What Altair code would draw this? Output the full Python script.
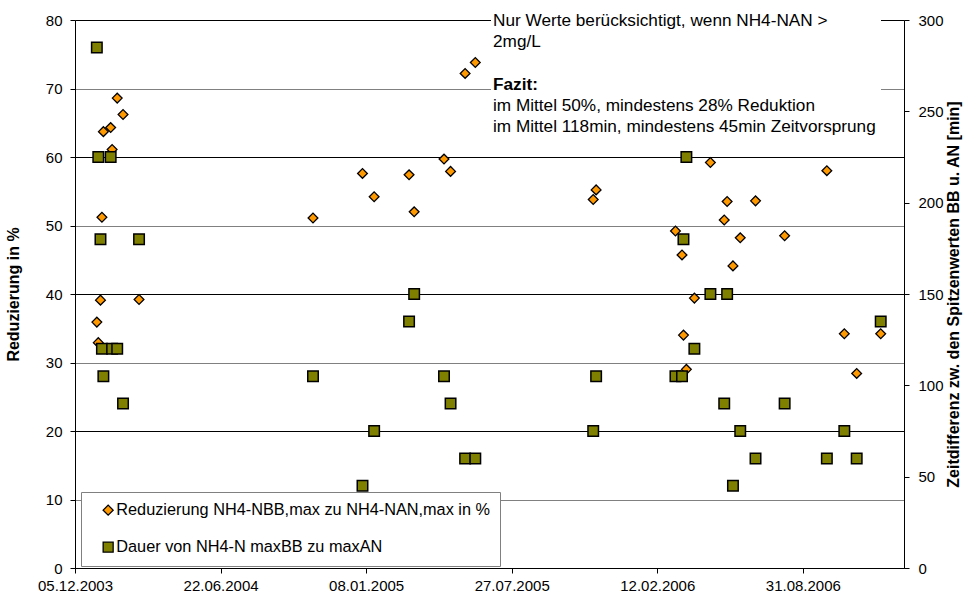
import altair as alt
import pandas as pd

# ---- data ----
event_dates = [
    "2004-01-04", "2004-01-06", "2004-01-09", "2004-01-11", "2004-01-13",
    "2004-01-23", "2004-01-25", "2004-02-01", "2004-02-09", "2004-03-02",
    "2004-10-27", "2005-01-03", "2005-01-19", "2005-03-08", "2005-03-15",
    "2005-04-25", "2005-05-04", "2005-05-24", "2005-06-07",
    "2005-11-16", "2005-11-20",
    "2006-03-09", "2006-03-18", "2006-03-20", "2006-03-24", "2006-04-04",
    "2006-04-26", "2006-05-15", "2006-05-19", "2006-05-27", "2006-06-06",
    "2006-06-27", "2006-08-06", "2006-10-03", "2006-10-27", "2006-11-13",
    "2006-12-16",
]
reduction_pct = [
    35.9, 32.9, 39.1, 51.2, 63.7, 64.3, 61.1, 68.6, 66.2, 39.2,
    51.1, 57.6, 54.2, 57.4, 52.0, 59.7, 57.9, 72.2, 73.8,
    53.8, 55.2,
    49.2, 45.7, 34.0, 29.0, 39.4, 59.2, 50.8, 53.5, 44.1, 48.2,
    53.6, 48.5, 58.0, 34.2, 28.4, 34.2,
]
duration_min = [
    285, 225, 180, 120, 105, 225, 120, 120, 90, 180,
    105, 45, 75, 135, 150, 105, 90, 60, 60,
    75, 105,
    105, 105, 180, 225, 120, 150, 90, 150, 45, 75,
    60, 90, 60, 75, 60, 135,
]
x_tick_dates = [(2003, 12, 5), (2004, 6, 22), (2005, 1, 8), (2005, 7, 27),
                (2006, 2, 12), (2006, 8, 31)]
x_domain = [(2003, 12, 5), (2007, 1, 17)]
left_ticks = [0, 10, 20, 30, 40, 50, 60, 70, 80]
right_ticks = [0, 50, 100, 150, 200, 250, 300]

series_names = ["Reduzierung NH4-NBB,max zu NH4-NAN,max in %",
                "Dauer von NH4-N maxBB zu maxAN"]
series_colors = ["#FF9900", "#808000"]
series_shapes = ["diamond", "square"]

note_lines = ["Nur Werte berücksichtigt, wenn NH4-NAN >", "2mg/L"]
fazit_title = "Fazit:"
fazit_lines = ["im Mittel 50%, mindestens 28% Reduktion",
               "im Mittel 118min, mindestens 45min Zeitvorsprung"]

FONT = "Liberation Sans"
LABEL_SIZE = 15
TITLE_SIZE = 16
NOTE_SIZE = 17.2

df = pd.DataFrame({"Datum": event_dates, "Reduzierung": reduction_pct,
                   "Dauer": duration_min})


def dt(t):
    return alt.DateTime(year=t[0], month=t[1], date=t[2], utc=True)


x_enc = alt.X(
    "Datum:T",
    scale=alt.Scale(type="utc", domain=[dt(x_domain[0]), dt(x_domain[1])], nice=False),
    axis=alt.Axis(values=[dt(t) for t in x_tick_dates],
                  labelExpr="utcFormat(datum.value, '%d.%m.%Y')",
                  title=None, grid=False, labelFontSize=LABEL_SIZE,
                  labelColor="black", tickColor="black", domainColor="black",
                  tickSize=5, labelPadding=5, labelFont=FONT, labelFlush=False,
                  labelOverlap=False),
)

legend_kw = dict(title=None, orient="none", legendX=6, legendY=472,
                 fillColor="white", strokeColor="#808080",
                 padding=10, rowPadding=20, labelFontSize=16.3,
                 labelFont=FONT, labelColor="black",
                 symbolStrokeColor="black", symbolStrokeWidth=1.3,
                 symbolSize=100, symbolOffset=9, labelOffset=0,
                 labelLimit=600)
color_enc = alt.Color("Serie:N", scale=alt.Scale(domain=series_names, range=series_colors),
                      legend=alt.Legend(**legend_kw))
shape_enc = alt.Shape("Serie:N", scale=alt.Scale(domain=series_names, range=series_shapes),
                      legend=alt.Legend(**legend_kw))

base = alt.Chart(df)

diamonds = base.transform_calculate(Serie=f"'{series_names[0]}'").mark_point(
    filled=True, stroke="black", strokeWidth=1.3, size=95, opacity=1
).encode(
    x=x_enc,
    y=alt.Y("Reduzierung:Q", scale=alt.Scale(domain=[0, 80], nice=False),
            axis=alt.Axis(values=left_ticks, title="Reduzierung in %", orient="left",
                          titleFontSize=TITLE_SIZE, titleFontWeight="bold", titleFont=FONT,
                          titleColor="black", labelFontSize=LABEL_SIZE, labelFont=FONT,
                          labelColor="black", tickColor="black", domainColor="black",
                          tickSize=5, labelPadding=8, titlePadding=24, grid=True,
                          labelFlush=False,
                          gridColor={"condition": {"test": "datum.value % 20 === 0",
                                                   "value": "#000000"},
                                     "value": "#808080"},
                          gridWidth=1)),
    color=color_enc,
    shape=shape_enc,
)

squares = base.transform_calculate(Serie=f"'{series_names[1]}'").mark_point(
    filled=True, stroke="black", strokeWidth=1.5, size=110, opacity=1
).encode(
    x=x_enc,
    y=alt.Y("Dauer:Q", scale=alt.Scale(domain=[0, 300], nice=False),
            axis=alt.Axis(values=right_ticks, orient="right",
                          title="Zeitdifferenz zw. den Spitzenwerten BB u. AN [min]",
                          titleAngle=270, titleBaseline="top", titleFontSize=TITLE_SIZE,
                          titleFontWeight="bold", titleFont=FONT, titleColor="black",
                          labelFontSize=LABEL_SIZE, labelFont=FONT, labelColor="black",
                          tickColor="black", domainColor="black", tickSize=5,
                          labelPadding=9, titlePadding=2, grid=False, labelFlush=False)),
    color=color_enc,
    shape=shape_enc,
)

one = pd.DataFrame({"k": [0]})
note_box = alt.Chart(one).mark_rect(fill="white").encode(
    x=alt.value(416), x2=alt.value(806), y=alt.value(-16), y2=alt.value(117))

note_style = dict(align="left", baseline="middle", fontSize=NOTE_SIZE, font=FONT,
                  color="black")
note1 = alt.Chart(one).mark_text(lineHeight=21.5, **note_style).encode(
    x=alt.value(418), y=alt.value(0.7), text=alt.value(note_lines))
note2 = alt.Chart(one).mark_text(fontWeight="bold", **note_style).encode(
    x=alt.value(418), y=alt.value(65), text=alt.value(fazit_title))
note3 = alt.Chart(one).mark_text(lineHeight=21.5, **note_style).encode(
    x=alt.value(418), y=alt.value(85.5), text=alt.value(fazit_lines))

chart = alt.layer(note_box, note1, note2, note3, diamonds, squares).resolve_scale(
    y="independent"
).properties(
    width=829, height=548,
    padding={"left": 75, "top": 20, "right": 67, "bottom": 30},
    autosize=alt.AutoSizeParams(type="none"),
    background="white",
).configure_view(strokeWidth=0).configure(font=FONT)

chart.save("out.html", embed_options={"renderer": "svg", "actions": False})
